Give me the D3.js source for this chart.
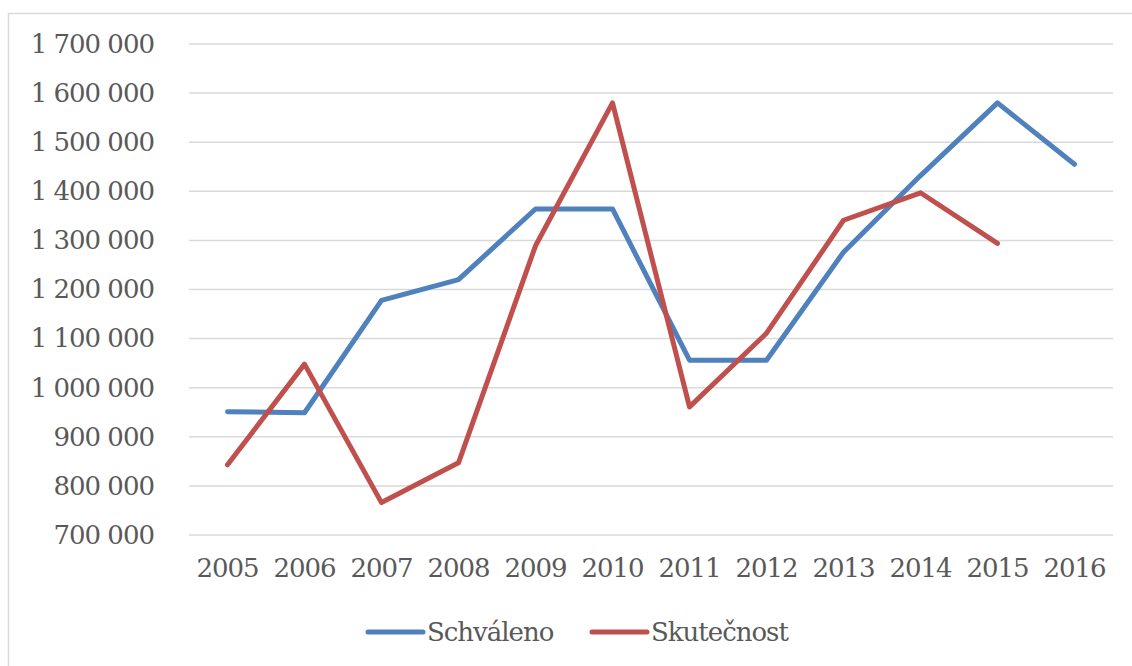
<!DOCTYPE html>
<html>
<head>
<meta charset="utf-8">
<script src="https://cdn.jsdelivr.net/npm/d3@7"></script>
<style>
  body { margin: 0; background: #fff; }
</style>
</head>
<body>
<div id="chart"></div>
<script>
// data
var years = ["2005","2006","2007","2008","2009","2010","2011","2012","2013","2014","2015","2016"]
var schvaleno = [951000, 949000, 1178000, 1220000, 1364000, 1364000, 1056000, 1056000, 1276000, 1432000, 1580000, 1455000]
var skutecnost = [843000, 1048000, 766000, 847000, 1289000, 1580000, 961000, 1111000, 1341000, 1397000, 1294000]
var yTicks = [700000, 800000, 900000, 1000000, 1100000, 1200000, 1300000, 1400000, 1500000, 1600000, 1700000]
var seriesNames = ["Schváleno", "Skutečnost"]
var colors = ["#4F81BD", "#C0504D"]

// Times is not installed, DejaVu Serif squeezed a little is the closest
var FONT = "'DejaVu Serif', serif"
var W = 1132, H = 666
var margin = {top: 44, right: 19, bottom: 131, left: 189}
var width = W - margin.left - margin.right,
    height = H - margin.top - margin.bottom

var svg = d3.select("#chart").append("svg")
  .attr("width", W)
  .attr("height", H)

// outer frame
svg.append("rect")
  .attr("x", 8.5).attr("y", 13.5)
  .attr("width", W).attr("height", H)
  .attr("fill", "none")
  .attr("stroke", "#d9d9d9")
  .attr("stroke-width", 1.5)

var g = svg.append("g")
  .attr("transform", "translate(" + margin.left + "," + margin.top + ")")

var x = d3.scaleBand().domain(years).range([0, width])
var y = d3.scaleLinear().domain([700000, 1700000]).range([height, 0])

var fmt = function(d){ return d3.format(",")(d).replace(/,/g, " ") }

// grid
g.selectAll(".grid")
  .data(yTicks)
  .enter().append("line")
  .attr("x1", 0).attr("x2", width)
  .attr("y1", function(d){ return y(d) })
  .attr("y2", function(d){ return y(d) })
  .attr("stroke", "#d9d9d9")
  .attr("stroke-width", 1.5)

// y axis labels
var yAxis = g.append("g").call(d3.axisLeft(y).tickValues(yTicks).tickFormat(fmt).tickSize(0).tickPadding(35))
yAxis.select(".domain").remove()
yAxis.attr("font-family", FONT)
yAxis.selectAll("text")
  .style("font-size", "26px")
  .style("letter-spacing", "-1px")
  .attr("fill", "#595959")

// x axis labels
var xAxis = g.append("g")
  .attr("transform", "translate(0," + height + ")")
  .call(d3.axisBottom(x).tickSize(0).tickPadding(24))
xAxis.select(".domain").remove()
xAxis.attr("font-family", FONT)
xAxis.selectAll("text")
  .style("font-size", "26px")
  .style("letter-spacing", "-1px")
  .attr("fill", "#595959")

var line = d3.line()
  .x(function(d, i){ return x(years[i]) + x.bandwidth() / 2 })
  .y(function(d){ return y(d) })

var allSeries = [schvaleno, skutecnost]
g.selectAll(".series")
  .data(allSeries)
  .enter().append("path")
  .attr("fill", "none")
  .attr("stroke", function(d, i){ return colors[i] })
  .attr("stroke-width", 5)
  .attr("stroke-linejoin", "round")
  .attr("stroke-linecap", "round")
  .attr("d", line)

// legend
var legendX = [368, 592]
var leg = svg.selectAll(".legend")
  .data(seriesNames)
  .enter().append("g")
  .attr("transform", function(d, i){ return "translate(" + legendX[i] + ",632)" })
leg.append("line")
  .attr("x1", 0).attr("x2", 55)
  .attr("stroke", function(d, i){ return colors[i] })
  .attr("stroke-width", 5)
  .attr("stroke-linecap", "round")
leg.append("text")
  .attr("x", 59)
  .attr("dy", "0.35em")
  .attr("font-family", FONT)
  .style("font-size", "26px")
  .style("letter-spacing", "-1px")
  .attr("fill", "#595959")
  .text(function(d){ return d })
</script>
</body>
</html>
